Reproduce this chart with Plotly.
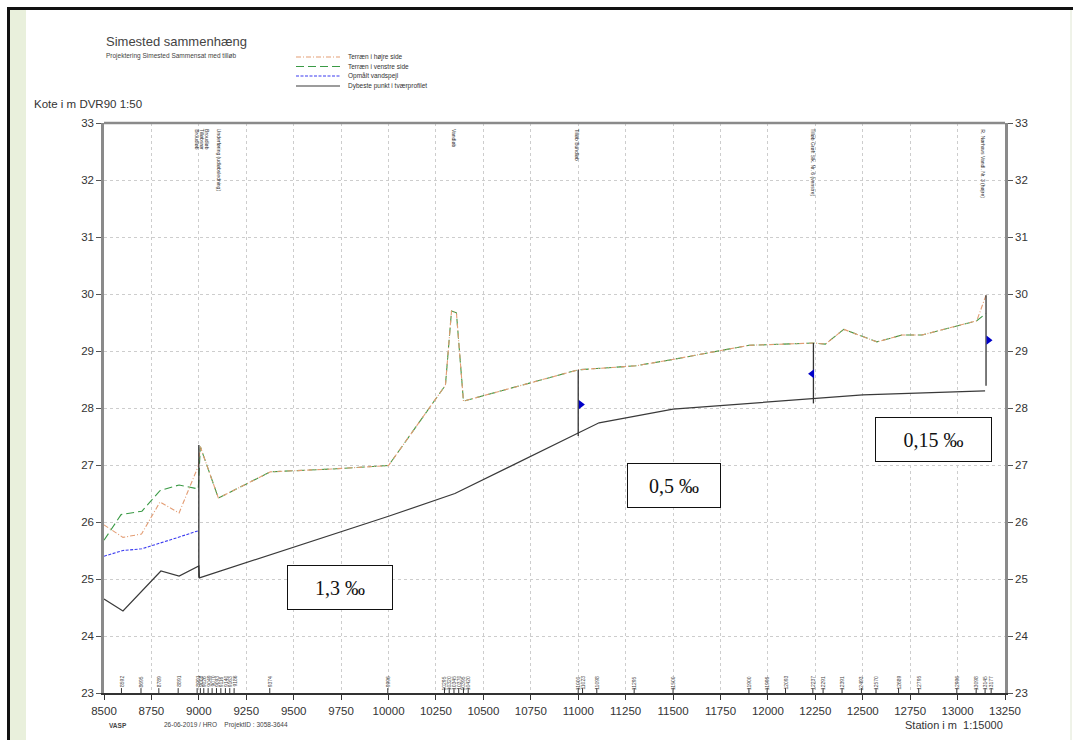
import plotly.graph_objects as go

# ---------------- data ----------------
terrain_right_x = [8500, 8600, 8698, 8795, 8896, 8997, 9008, 9103, 9377, 9700, 10000, 10300, 10332, 10358, 10395,
                   11000, 11303, 11496, 11900, 12247, 12303, 12400, 12575, 12707, 12812, 13101, 13150]
terrain_right_y = [25.95, 25.73, 25.79, 26.35, 26.16, 26.98, 27.32, 26.42, 26.88, 26.93, 26.99, 28.40, 29.70, 29.67, 28.12,
                   28.67, 28.74, 28.85, 29.10, 29.14, 29.12, 29.38, 29.16, 29.28, 29.28, 29.53, 29.98]

terrain_left_x = [8500, 8590, 8700, 8795, 8896, 8997, 9008, 9103, 9377, 9700, 10000, 10300, 10332, 10358, 10395,
                  11000, 11303, 11496, 11900, 12247, 12303, 12400, 12575, 12707, 12812, 13101, 13150]
terrain_left_y = [25.68, 26.13, 26.19, 26.55, 26.65, 26.58, 27.32, 26.42, 26.88, 26.93, 26.99, 28.40, 29.70, 29.67, 28.12,
                  28.67, 28.74, 28.85, 29.10, 29.14, 29.12, 29.38, 29.16, 29.28, 29.28, 29.53, 29.66]

water_x = [8500, 8600, 8700, 8800, 8900, 9000]
water_y = [25.40, 25.50, 25.53, 25.63, 25.74, 25.85]

bottom_x = [8500, 8600, 8800, 8896, 9000, 9003, 10000, 10350, 11000, 11110, 11500, 12247, 12500, 13145]
bottom_y = [24.65, 24.44, 25.14, 25.05, 25.23, 25.02, 26.10, 26.50, 27.56, 27.74, 27.98, 28.17, 28.23, 28.30]

structure_x = [9000, 11000, 12240, 13150]
structure_top = [27.35, 28.67, 29.14, 29.98]
structure_bottom = [25.02, 27.51, 28.08, 28.39]

marker_x = [11014, 12233, 13163]
marker_y = [28.06, 28.60, 29.19]
marker_symbol = ["triangle-right", "triangle-left", "triangle-right"]

top_label_x = [8992, 9020, 9045, 9110, 10345, 10995, 12240, 13135]
top_label_text = ["Broudløb", "Tilløbsrør", "Broudløb", "Underføring (udløbsledning)", "Vandløb",
                  "Tilløb Bundløb", "Tilløb Grøft Slk. Nr. 6 (venstre)", "R. Nørhavs Vandl. Nr. 3 (højre)"]

station_labels = [8592, 8695, 8789, 8891, 8991, 9008, 9026, 9049, 9070, 9093, 9116, 9140, 9163, 9186, 9374, 9996,
                  10295, 10320, 10345, 10370, 10395, 10420, 11000, 11023, 11098, 11295, 11500, 11900, 11996, 12093,
                  12237, 12291, 12391, 12493, 12570, 12689, 12795, 12996, 13098, 13145, 13177]

gradient_x = [9742, 11505, 12871]
gradient_y = [24.85, 26.64, 27.44]
gradient_text = ["1,3 ‰", "0,5 ‰", "0,15 ‰"]
gradient_w = [104, 92, 115]

legend_names = ["Terræn i højre side", "Terræn i venstre side", "Opmålt vandspejl", "Dybeste punkt i tværprofilet"]

x_range = [8500, 13250]
y_range = [23, 33]

# ---------------- layout helpers ----------------
W, H = 1073, 740
PL, PR, PT, PB = 104, 1005, 123, 693
FONT = "Liberation Sans, Arial, sans-serif"


def px(x):
    return (x - PL) / (PR - PL)


def py(y):
    return (PB - y) / (PB - PT)


fig = go.Figure()

styles = [
    dict(color="#e39d74", width=1.1, dash="5px,2px,1px,2px"),
    dict(color="#3a9a45", width=1.1, dash="8px,4px"),
    dict(color="#3b3bf0", width=1.1, dash="3px,1.5px"),
    dict(color="#3a3a3a", width=1.2),
]

fig.add_trace(go.Scatter(x=terrain_left_x, y=terrain_left_y, mode="lines", name=legend_names[1],
                         line=styles[1], showlegend=False))
fig.add_trace(go.Scatter(x=terrain_right_x, y=terrain_right_y, mode="lines", name=legend_names[0],
                         line=styles[0], showlegend=False))
fig.add_trace(go.Scatter(x=water_x, y=water_y, mode="lines", name=legend_names[2],
                         line=styles[2], showlegend=False))
fig.add_trace(go.Scatter(x=bottom_x, y=bottom_y, mode="lines", name=legend_names[3],
                         line=styles[3], showlegend=False))

# structure vertical lines
sx, sy = [], []
for x, t, b in zip(structure_x, structure_top, structure_bottom):
    sx += [x, x, None]
    sy += [b, t, None]
fig.add_trace(go.Scatter(x=sx, y=sy, mode="lines", line=dict(color="#333333", width=1.3),
                         showlegend=False, hoverinfo="skip"))

fig.add_trace(go.Scatter(x=marker_x, y=marker_y, mode="markers",
                         marker=dict(symbol=marker_symbol, size=8, color="#0000c8"),
                         showlegend=False))

# station tick marks at bottom
fig.add_trace(go.Scatter(x=station_labels, y=[y_range[0]] * len(station_labels), mode="markers",
                         marker=dict(symbol="line-ns-open", size=7, color="#333",
                                     line=dict(color="#333", width=1)),
                         showlegend=False, hoverinfo="skip"))

# dummy trace for right axis
fig.add_trace(go.Scatter(x=[x_range[0]], y=[y_range[0]], yaxis="y2", mode="markers",
                         marker=dict(opacity=0), showlegend=False, hoverinfo="skip"))

annotations = []
shapes = []

# gradient boxes
for x, y, t, w in zip(gradient_x, gradient_y, gradient_text, gradient_w):
    annotations.append(dict(x=x, y=y, xref="x", yref="y", text=t, showarrow=False,
                            font=dict(family="Liberation Serif, Times New Roman, serif", size=20, color="#111"),
                            bordercolor="#111", borderwidth=1, borderpad=0, bgcolor="white",
                            width=w, height=43))

# top rotated labels
for x, t in zip(top_label_x, top_label_text):
    annotations.append(dict(x=x, y=py(127), xref="x", yref="paper", text=t, showarrow=False,
                            textangle=90, xanchor="center", yanchor="top",
                            font=dict(family=FONT, size=5, color="#333")))

# bottom station labels
for x in station_labels:
    annotations.append(dict(x=x, y=py(674), xref="x", yref="paper", text=str(x), showarrow=False,
                            textangle=-90, xanchor="center", yanchor="top",
                            font=dict(family=FONT, size=5, color="#444")))

# titles / texts
annotations += [
    dict(x=px(104), y=py(41), xref="paper", yref="paper", text="Simested sammenhæng", showarrow=False,
         xanchor="left", yanchor="middle", font=dict(family=FONT, size=13, color="#444")),
    dict(x=px(104), y=py(56), xref="paper", yref="paper", text="Projektering Simested Sammensat med tilløb",
         showarrow=False, xanchor="left", yanchor="middle", font=dict(family=FONT, size=6.5, color="#444")),
    dict(x=px(32), y=py(104), xref="paper", yref="paper", text="Kote i m DVR90 1:50", showarrow=False,
         xanchor="left", yanchor="middle", font=dict(family=FONT, size=11.5, color="#333")),
    dict(x=px(107), y=py(725), xref="paper", yref="paper", text="<b>VASP</b>", showarrow=False,
         xanchor="left", yanchor="middle", font=dict(family=FONT, size=6.5, color="#444")),
    dict(x=px(162), y=py(725), xref="paper", yref="paper",
         text="26-06-2019 / HRO&nbsp;&nbsp;&nbsp;&nbsp;ProjektID : 3058-3644", showarrow=False,
         xanchor="left", yanchor="middle", font=dict(family=FONT, size=6.5, color="#444")),
    dict(x=px(1005), y=py(725), xref="paper", yref="paper", text="Station i m&nbsp;&nbsp;1:15000", showarrow=False,
         xanchor="right", yanchor="middle", font=dict(family=FONT, size=11, color="#333")),
]

# manual legend
legend_rows = [57, 66.5, 76, 86]
legend_order = [0, 1, 2, 3]
for i, ry in zip(legend_order, legend_rows):
    st = styles[i]
    shapes.append(dict(type="line", xref="paper", yref="paper", x0=px(296), x1=px(340), y0=py(ry), y1=py(ry),
                       line=dict(color=st["color"], width=st["width"], dash=st.get("dash", "solid"))))
    annotations.append(dict(x=px(346), y=py(ry), xref="paper", yref="paper", text=legend_names[i], showarrow=False,
                            xanchor="left", yanchor="middle", font=dict(family=FONT, size=6.5, color="#333")))

# frame: black top/left border and green strip
shapes += [
    dict(type="rect", xref="paper", yref="paper", x0=px(10), x1=px(26), y0=py(740), y1=py(10),
         fillcolor="#e9f0dc", line=dict(width=0), layer="below"),
    dict(type="line", xref="paper", yref="paper", x0=px(7), x1=px(1073), y0=py(8.5), y1=py(8.5),
         line=dict(color="#111", width=3)),
    dict(type="line", xref="paper", yref="paper", x0=px(8.5), x1=px(8.5), y0=py(740), y1=py(7),
         line=dict(color="#111", width=3)),
    dict(type="line", xref="paper", yref="paper", x0=px(1071), x1=px(1071), y0=py(740), y1=py(10),
         line=dict(color="#dfe6d2", width=1)),
    # top axis line (thick gray)
    dict(type="line", xref="paper", yref="paper", x0=0, x1=1, y0=1, y1=1,
         line=dict(color="#8a8a8a", width=2.5)),
]

grid = dict(showgrid=True, gridcolor="#cdcdcd", gridwidth=1, griddash="3px,3px")
tickfont = dict(family=FONT, size=11.5, color="#333")

fig.update_layout(
    width=W, height=H, autosize=False,
    margin=dict(l=PL, r=W - PR, t=PT, b=H - PB, pad=0),
    paper_bgcolor="white", plot_bgcolor="white",
    showlegend=False,
    xaxis=dict(range=x_range, tick0=8500, dtick=250, tickformat="d", ticks="outside", ticklen=5,
               tickcolor="#333", ticklabelstandoff=1,
               showline=True, linecolor="#333", linewidth=1.5, zeroline=False, tickfont=tickfont, **grid),
    yaxis=dict(range=y_range, dtick=1, ticks="outside", ticklen=5, tickcolor="#555",
               showline=True, linecolor="#8a8a8a", linewidth=2.5, zeroline=False, tickfont=tickfont, **grid),
    yaxis2=dict(range=y_range, dtick=1, overlaying="y", side="right", ticks="outside", ticklen=5,
                tickcolor="#555", showline=True, linecolor="#8a8a8a", linewidth=2.5, showgrid=False,
                zeroline=False, tickfont=tickfont),
    annotations=annotations,
    shapes=shapes,
)

fig.write_html("out.html")
